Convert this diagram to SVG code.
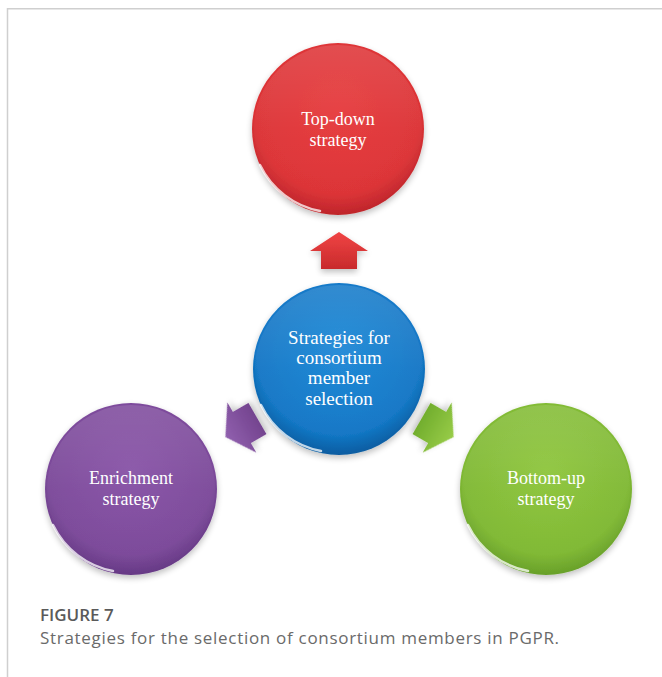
<svg xmlns="http://www.w3.org/2000/svg" width="662" height="677" viewBox="0 0 662 677">
<defs>
<radialGradient id="gRed" cx="0.5" cy="0.4" r="0.6">
<stop offset="0" stop-color="#E6393B"/><stop offset="0.8" stop-color="#DC3336"/><stop offset="1" stop-color="#BE252B"/>
</radialGradient>
<radialGradient id="gBlue" cx="0.5" cy="0.4" r="0.6">
<stop offset="0" stop-color="#1C87D6"/><stop offset="0.8" stop-color="#1277C6"/><stop offset="1" stop-color="#0B5CA0"/>
</radialGradient>
<radialGradient id="gPurple" cx="0.5" cy="0.4" r="0.6">
<stop offset="0" stop-color="#8752A6"/><stop offset="0.8" stop-color="#7C4A9A"/><stop offset="1" stop-color="#663985"/>
</radialGradient>
<radialGradient id="gGreen" cx="0.5" cy="0.4" r="0.6">
<stop offset="0" stop-color="#8DC53B"/><stop offset="0.8" stop-color="#80B934"/><stop offset="1" stop-color="#68A02A"/>
</radialGradient>
<linearGradient id="aRed" x1="0" y1="0" x2="0" y2="1"><stop offset="0" stop-color="#F04444"/><stop offset="1" stop-color="#C82A2C"/></linearGradient>
<linearGradient id="aPurple" x1="0" y1="0" x2="0" y2="1"><stop offset="0" stop-color="#9060AE"/><stop offset="1" stop-color="#74448F"/></linearGradient>
<linearGradient id="aGreen" x1="0" y1="0" x2="0" y2="1"><stop offset="0" stop-color="#98CC48"/><stop offset="1" stop-color="#72AE2E"/></linearGradient>
<linearGradient id="shine" x1="0" y1="0" x2="0" y2="1">
<stop offset="0" stop-color="#fff" stop-opacity="0.12"/><stop offset="0.5" stop-color="#fff" stop-opacity="0.03"/><stop offset="1" stop-color="#fff" stop-opacity="0"/>
</linearGradient>
<filter id="sh" x="-20%" y="-20%" width="140%" height="140%">
<feGaussianBlur in="SourceAlpha" stdDeviation="3"/><feOffset dx="0" dy="3"/>
<feComponentTransfer><feFuncA type="linear" slope="0.25"/></feComponentTransfer>
<feMerge><feMergeNode/><feMergeNode in="SourceGraphic"/></feMerge>
</filter>
<path id="arrowShape" d="M0,-18 L29,1 L18,1 L18,19 L-18,19 L-18,1 L-29,1 Z"/>
</defs>
<style>
.lbl{font-family:"Liberation Serif","Times New Roman",serif;font-size:18px;fill:#fff;text-anchor:middle}
.ctr{font-size:19px}
.rim{fill:none;stroke:#fff;stroke-opacity:0.75;stroke-width:2.5;stroke-linecap:round}
.frame{stroke:#cfcfcf;stroke-width:1.5;fill:none}
.cap1{font-family:"Open Sans","Liberation Sans",sans-serif;font-size:17px;font-weight:600;fill:#5a5a5a}
.cap2{font-family:"Open Sans","Liberation Sans",sans-serif;font-size:17px;letter-spacing:0.7px;fill:#6a6a6a}
</style>
<rect width="662" height="677" fill="#fff"/>
<path class="frame" d="M7.5,677 V8.75 H662"/>

<g id="connectors">
<use href="#arrowShape" fill="url(#aRed)" filter="url(#sh)" transform="translate(339,250)"/>
<use href="#arrowShape" fill="url(#aPurple)" filter="url(#sh)" transform="translate(241,428) rotate(-120)"/>
<use href="#arrowShape" fill="url(#aGreen)" filter="url(#sh)" transform="translate(438,428) rotate(120)"/>
</g>

<g id="top-down">
<circle cx="338" cy="129" r="86" fill="url(#gRed)" filter="url(#sh)"/>
<circle cx="338" cy="129" r="84" fill="url(#shine)"/>
<path class="rim" d="M260,165 A84,84 0 0 0 320,211"/>
<text class="lbl" x="338" y="125">Top-down</text>
<text class="lbl" x="338" y="146">strategy</text>
</g>

<g id="center">
<circle cx="339" cy="369" r="86" fill="url(#gBlue)" filter="url(#sh)"/>
<circle cx="339" cy="369" r="84" fill="url(#shine)"/>
<path class="rim" d="M261,405 A84,84 0 0 0 321,451"/>
<text class="lbl ctr" x="339" y="344">Strategies for</text>
<text class="lbl ctr" x="339" y="364">consortium</text>
<text class="lbl ctr" x="339" y="384">member</text>
<text class="lbl ctr" x="339" y="405">selection</text>
</g>

<g id="enrichment">
<circle cx="131" cy="489" r="86" fill="url(#gPurple)" filter="url(#sh)"/>
<circle cx="131" cy="489" r="84" fill="url(#shine)"/>
<path class="rim" d="M53,525 A84,84 0 0 0 113,571"/>
<text class="lbl" x="131" y="484">Enrichment</text>
<text class="lbl" x="131" y="505">strategy</text>
</g>

<g id="bottom-up">
<circle cx="546" cy="489" r="86" fill="url(#gGreen)" filter="url(#sh)"/>
<circle cx="546" cy="489" r="84" fill="url(#shine)"/>
<path class="rim" d="M468,525 A84,84 0 0 0 528,571"/>
<text class="lbl" x="546" y="484">Bottom-up</text>
<text class="lbl" x="546" y="505">strategy</text>
</g>

<text class="cap1" x="40" y="621">FIGURE 7</text>
<text class="cap2" x="40" y="644">Strategies for the selection of consortium members in PGPR.</text>
</svg>
